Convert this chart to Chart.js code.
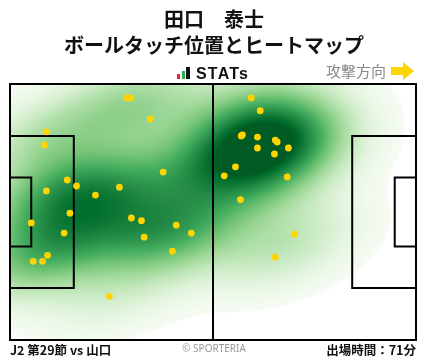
<!DOCTYPE html>
<html><head><meta charset="utf-8">
<script src="https://cdn.jsdelivr.net/npm/chart.js@4/dist/chart.umd.min.js"></script>
<style>
html,body{margin:0;padding:0;background:#fff;}
#wrap{position:relative;width:428px;height:359px;overflow:hidden;background:#fff;}
#c{position:absolute;left:0;top:0;}
.t{position:absolute;white-space:nowrap;font-family:"Noto Sans CJK JP","Noto Sans",sans-serif;}
</style></head><body>
<div id="wrap">
<canvas id="c" width="428" height="359"></canvas>
<div class="t" style="left:0;width:428px;top:6px;text-align:center;font-size:20px;font-weight:700;line-height:26px;color:#111;">田口　泰士<br>ボールタッチ位置とヒートマップ</div>
<div style="position:absolute;left:177px;top:74px;width:3px;height:5px;background:#e8242c;"></div>
<div style="position:absolute;left:182px;top:71px;width:3px;height:8px;background:#2fa84f;"></div>
<div style="position:absolute;left:186px;top:67px;width:4px;height:12px;background:#111;"></div>
<div class="t" style="left:196px;top:65.5px;font-family:'Liberation Sans',Arial,sans-serif;font-size:16px;font-weight:700;line-height:16px;letter-spacing:1.2px;color:#111;">STATs</div>
<div class="t" style="left:326px;top:61px;font-size:15px;line-height:20px;color:#888;">攻撃方向</div>
<svg style="position:absolute;left:391px;top:62px;" width="24" height="18" viewBox="0 0 24 18"><polygon points="0,5 12,5 12,0 23,9 12,18 12,13 0,13" fill="#FFD400"/></svg>
<div class="t" style="left:10px;top:342px;font-size:12.5px;font-weight:700;line-height:16px;color:#111;">J2 第29節 vs 山口</div>
<div class="t" style="left:0;width:428px;text-align:center;top:341px;font-family:'Noto Sans',sans-serif;font-size:10px;line-height:14px;color:#999;">© SPORTERIA</div>
<div class="t" style="right:12px;top:342px;font-size:12.5px;font-weight:700;line-height:16px;color:#111;">出場時間：71分</div>
</div>
<script>
// Ball touch positions (pitch metres: x 0-105 attacking right, y 0-68 from top)
const touchX = [30.3,31.3,36.3,9.4,8.9,39.6,14.8,17.2,9.4,28.3,22.1,15.5,31.4,34.0,5.5,14.0,9.7,6.0,8.4,43.0,46.9,34.7,42.0,25.7,
                62.4,64.7,59.8,60.1,64.0,68.6,69.1,64.0,72.0,68.4,58.3,55.4,71.7,59.6,73.5,68.6];
const touchY = [3.7,3.7,9.3,12.7,16.2,23.4,25.5,27.1,28.4,27.4,29.5,34.3,35.6,36.3,36.9,39.6,45.5,47.1,47.1,37.5,39.6,40.7,44.4,56.4,
                3.7,7.1,13.8,13.5,14.1,14.9,15.4,17.0,17.0,18.6,22.0,24.4,24.7,30.7,39.9,46.0];
// Pitch dimensions (metres)
const PITCH_L = 105, PITCH_W = 68;
const PEN_D = 16.5, PEN_W = 40.32, GOAL_D = 5.5, GOAL_W = 18.32;
const BW_ADJUST = 1.0, THRESH = 0.02, SAT = 0.8, TOP = 0.93, GAMMA = 0.85;

const GREENS = [[247,252,245],[229,245,224],[199,233,192],[161,217,155],[116,196,118],[65,171,93],[35,139,69],[0,109,44],[0,68,27]];
function greens(t){
  t = Math.max(0, Math.min(1, t));
  const p = t*(GREENS.length-1), i = Math.min(GREENS.length-2, Math.floor(p)), f = p-i;
  const a = GREENS[i], b = GREENS[i+1];
  return [a[0]+(b[0]-a[0])*f, a[1]+(b[1]-a[1])*f, a[2]+(b[2]-a[2])*f];
}

const heatPlugin = {
  id:'heat',
  beforeDatasetsDraw(chart){
    const {ctx, chartArea:a, scales:{x, y}} = chart;
    const w = Math.round(a.right-a.left), h = Math.round(a.bottom-a.top);
    const n = touchX.length;
    let mx=0,my=0; for(let k=0;k<n;k++){mx+=touchX[k];my+=touchY[k];} mx/=n; my/=n;
    let cxx=0,cyy=0,cxy=0;
    for(let k=0;k<n;k++){const dx=touchX[k]-mx, dy=touchY[k]-my; cxx+=dx*dx; cyy+=dy*dy; cxy+=dx*dy;}
    cxx/=(n-1); cyy/=(n-1); cxy/=(n-1);
    const f = Math.pow(n, -1/6)*BW_ADJUST, f2=f*f;
    const sxx=cxx*f2, syy=cyy*f2, sxy=cxy*f2, det=sxx*syy-sxy*sxy;
    const ia=syy/det, ib=-sxy/det, ic=sxx/det;
    const dens = new Float32Array(w*h); let dmax=0;
    for(let j=0;j<h;j++){
      const vy = y.getValueForPixel(a.top+j+0.5);
      for(let i=0;i<w;i++){
        const vx = x.getValueForPixel(a.left+i+0.5);
        let s=0;
        for(let k=0;k<n;k++){const dx=vx-touchX[k], dy=vy-touchY[k]; s+=Math.exp(-0.5*(ia*dx*dx+2*ib*dx*dy+ic*dy*dy));}
        dens[j*w+i]=s; if(s>dmax) dmax=s;
      }
    }
    const img = ctx.createImageData(w,h);
    for(let i=0;i<w*h;i++){
      const v = dens[i]/dmax;
      let r=255,g=255,b=255;
      if(v > THRESH){ const t = Math.min(1,(v-THRESH)/(SAT-THRESH)); const c = greens(Math.pow(t, GAMMA)*TOP); r=c[0]; g=c[1]; b=c[2]; }
      img.data[i*4]=r; img.data[i*4+1]=g; img.data[i*4+2]=b; img.data[i*4+3]=255;
    }
    const off = document.createElement('canvas'); off.width=w; off.height=h;
    off.getContext('2d').putImageData(img,0,0);
    ctx.save();
    ctx.drawImage(off, a.left, a.top);
    // pitch lines
    ctx.strokeStyle='#000'; ctx.lineWidth=2;
    const px=v=>x.getPixelForValue(v), py=v=>y.getPixelForValue(v);
    ctx.strokeRect(px(0),py(0),px(PITCH_L)-px(0),py(PITCH_W)-py(0));
    ctx.beginPath(); ctx.moveTo(px(PITCH_L/2),py(0)); ctx.lineTo(px(PITCH_L/2),py(PITCH_W)); ctx.stroke();
    const box=(d,wd,left)=>{
      const y0=py((PITCH_W-wd)/2), y1=py((PITCH_W+wd)/2);
      const xe = left ? px(0) : px(PITCH_L), xi = left ? px(d) : px(PITCH_L-d);
      ctx.beginPath(); ctx.moveTo(xe,y0); ctx.lineTo(xi,y0); ctx.lineTo(xi,y1); ctx.lineTo(xe,y1); ctx.stroke();
    };
    box(PEN_D,PEN_W,true); box(GOAL_D,GOAL_W,true); box(PEN_D,PEN_W,false); box(GOAL_D,GOAL_W,false);
    ctx.restore();
  }
};

new Chart(document.getElementById('c'), {
  type:'scatter',
  data:{datasets:[{data:touchX.map((v,i)=>({x:v,y:touchY[i]})), backgroundColor:'#FFD400', borderWidth:0, pointRadius:3.4, pointHoverRadius:3.4}]},
  options:{
    responsive:false, animation:false, devicePixelRatio:1,
    layout:{padding:{left:10,right:12,top:84,bottom:19}},
    plugins:{legend:{display:false}, tooltip:{enabled:false}},
    events:[],
    scales:{
      x:{type:'linear',min:0,max:PITCH_L,display:false},
      y:{type:'linear',min:0,max:PITCH_W,reverse:true,display:false}
    }
  },
  plugins:[heatPlugin]
});
</script>
</body></html>
